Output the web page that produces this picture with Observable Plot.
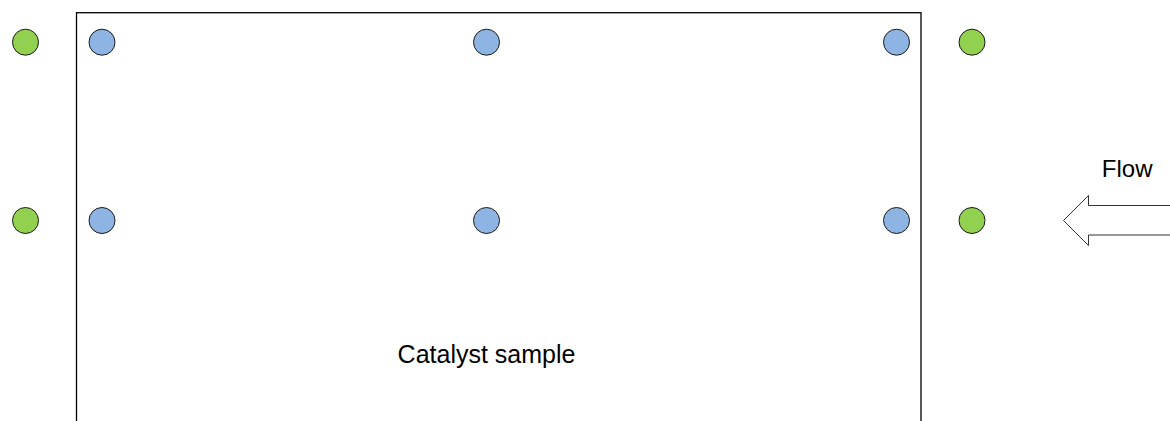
<!DOCTYPE html>
<html>
<head>
<meta charset="utf-8">
<script src="https://cdn.jsdelivr.net/npm/d3@7"></script>
<script src="https://cdn.jsdelivr.net/npm/@observablehq/plot@0.6"></script>
<style>
  html, body { margin: 0; padding: 0; background: #fff; overflow: hidden; }
  #chart svg { display: block; }
</style>
</head>
<body>
<div id="chart"></div>
<script>
// Sensor (thermocouple) positions in diagram units
const sensorX = [25, 101.5, 486, 896, 971.5];
const sensorRow = [41.7, 220];
const sensorType = ["outside", "sample", "sample", "sample", "outside"];

// Catalyst sample block extents
const sampleX = [76.5, 921];
const sampleY = [12.7, 460];
const sampleLabel = "Catalyst sample";

// Flow arrow outline (points toward the left)
const arrowX = [1180, 1088, 1088, 1063, 1088, 1088, 1180];
const arrowY = [205, 205, 195, 220, 245, 234.5, 234.5];
const flowLabel = "Flow";
const flowLabelPos = [1126.7, 168.7];
const sampleLabelPos = [486, 354];

const sensors = [];
for (const y of sensorRow) {
  sensorX.forEach((x, i) => sensors.push({x, y, type: sensorType[i]}));
}
const arrow = arrowX.map((x, i) => ({x, y: arrowY[i]}));

const chart = Plot.plot({
  width: 1170,
  height: 421,
  margin: 0,
  style: {fontFamily: "'Liberation Sans', Arial, sans-serif", background: "#fff", overflow: "visible"},
  x: {domain: [0, 1170], range: [0, 1170], axis: null},
  y: {domain: [0, 421], range: [0, 421], axis: null},
  color: {domain: ["outside", "sample"], range: ["#92d050", "#8db4e2"]},
  marks: [
    Plot.rect([{x1: sampleX[0], x2: sampleX[1], y1: sampleY[0], y2: sampleY[1]}], {
      x1: "x1", x2: "x2", y1: "y1", y2: "y2",
      fill: "none", stroke: "#000", strokeWidth: 1.3
    }),
    Plot.dot(sensors, {
      x: "x", y: "y", r: 13, fill: d => d.type, stroke: "#1a1a1a", strokeWidth: 1
    }),
    Plot.line(arrow, {x: "x", y: "y", stroke: "#333", strokeWidth: 1, fill: "none", curve: "linear"}),
    Plot.text([sampleLabel], {
      x: () => sampleLabelPos[0], y: () => sampleLabelPos[1], text: d => d,
      fontSize: 25, fill: "#000", textAnchor: "middle"
    }),
    Plot.text([flowLabel], {
      x: () => flowLabelPos[0], y: () => flowLabelPos[1], text: d => d,
      fontSize: 24, fill: "#000", textAnchor: "middle"
    })
  ]
});
document.getElementById("chart").append(chart);
</script>
</body>
</html>
